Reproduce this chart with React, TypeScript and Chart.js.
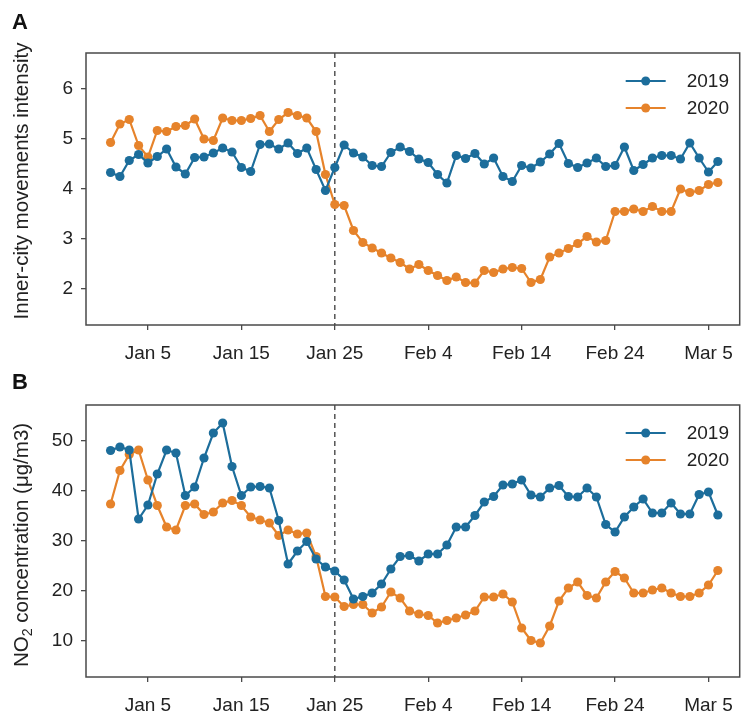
import React, { useEffect, useRef } from "react";
import { Chart, registerables } from "chart.js";

Chart.register(...registerables);

// ---- data ----
const tickLabels = ["Jan 5", "Jan 15", "Jan 25", "Feb 4", "Feb 14", "Feb 24", "Mar 5"];
const tickDays = [4, 14, 24, 34, 44, 54, 64]; // days since Jan 1
const lockdownDay = 24; // Jan 25
const seriesNames = ["2019", "2020"];

const mobility2019 = [
  4.33, 4.25, 4.57, 4.69, 4.52, 4.65, 4.8, 4.44, 4.3, 4.63, 4.64, 4.72, 4.82, 4.74, 4.43, 4.35,
  4.89, 4.9, 4.8, 4.92, 4.71, 4.82, 4.39, 3.97, 4.43, 4.88, 4.72, 4.64, 4.47, 4.45, 4.73, 4.84,
  4.75, 4.6, 4.53, 4.29, 4.12, 4.67, 4.61, 4.71, 4.5, 4.62, 4.25, 4.15, 4.47, 4.42, 4.54, 4.7,
  4.91, 4.51, 4.43, 4.52, 4.62, 4.45, 4.47, 4.84, 4.37, 4.49, 4.62, 4.67, 4.67, 4.6, 4.92, 4.62,
  4.34, 4.55,
];
const mobility2020 = [
  4.93, 5.3, 5.39, 4.87, 4.64, 5.17, 5.15, 5.25, 5.27, 5.4, 5.0, 4.97, 5.42, 5.37, 5.37, 5.41,
  5.47, 5.15, 5.39, 5.53, 5.47, 5.42, 5.15, 4.29, 3.69, 3.67, 3.17, 2.93, 2.82, 2.72, 2.62, 2.53,
  2.4, 2.49, 2.37, 2.27, 2.17, 2.24, 2.13, 2.12, 2.37, 2.33, 2.4, 2.43, 2.41, 2.13, 2.19, 2.64,
  2.72, 2.81, 2.91, 3.05, 2.94, 2.97, 3.55, 3.55, 3.6, 3.55, 3.65, 3.55, 3.55, 4.0, 3.93, 3.97,
  4.09, 4.13,
];
const no2_2019 = [
  48.1, 48.8, 48.2, 34.4, 37.2, 43.4, 48.2, 47.6, 39.1, 40.8, 46.6, 51.6, 53.6, 44.9, 39.1, 40.8,
  40.9, 40.6, 34.1, 25.4, 28.0, 29.9, 26.4, 24.8, 24.0, 22.2, 18.4, 18.9, 19.6, 21.4, 24.4, 26.9,
  27.1, 26.0, 27.4, 27.4, 29.2, 32.8, 32.8, 35.1, 37.8, 38.9, 41.2, 41.4, 42.2, 39.2, 38.8, 40.6,
  41.1, 38.9, 38.8, 40.6, 38.8, 33.3, 31.8, 34.8, 36.8, 38.4, 35.6, 35.6, 37.6, 35.4, 35.4, 39.3,
  39.8, 35.2,
];
const no2_2020 = [
  37.4, 44.1, 47.3, 48.2, 42.2, 37.1, 32.8, 32.2, 37.1, 37.4, 35.3, 35.8, 37.6, 38.1, 37.1, 34.8,
  34.2, 33.6, 31.1, 32.2, 31.4, 31.6, 26.9, 18.9, 18.8, 16.9, 17.3, 17.3, 15.6, 16.8, 19.8, 18.6,
  16.0, 15.4, 15.1, 13.6, 14.1, 14.6, 15.2, 16.0, 18.8, 18.8, 19.4, 17.8, 12.6, 10.1, 9.6, 13.0,
  18.0, 20.6, 21.8, 19.1, 18.6, 21.8, 23.9, 22.6, 19.6, 19.6, 20.2, 20.6, 19.6, 18.9, 18.9, 19.6,
  21.2, 24.1,
];
const mobilityTicks = [2, 3, 4, 5, 6];
const no2Ticks = [10, 20, 30, 40, 50];

// ---- style ----
const BLUE = "#1c6d9b";
const ORANGE = "#e6832b";
const AXIS = "#4a4a4a";
const TEXT = "#222222";
const FONT = "'Liberation Sans', Arial, sans-serif";
const FS = 19;
const TITLE_FS = 20.5;

type PanelCfg = {
  letter: string;
  letterY: number;
  a: number[];
  b: number[];
  yMin: number;
  yMax: number;
  yTicks: number[];
  title: "mobility" | "no2";
  titleShift: number;
  top: number;
  xAxisH: number;
};

function makePlugin(cfg: PanelCfg) {
  return {
    id: "decor" + cfg.letter,
    beforeDatasetsDraw(chart: any) {
      const { ctx, chartArea } = chart;
      const x = chart.scales.x.getPixelForValue(lockdownDay);
      ctx.save();
      ctx.strokeStyle = "#555";
      ctx.lineWidth = 1.5;
      ctx.setLineDash([5, 4]);
      ctx.beginPath();
      ctx.moveTo(x, chartArea.top);
      ctx.lineTo(x, chartArea.bottom);
      ctx.stroke();
      ctx.restore();
    },
    afterDraw(chart: any) {
      const { ctx, chartArea } = chart;
      ctx.save();
      // frame
      ctx.strokeStyle = AXIS;
      ctx.lineWidth = 1.5;
      ctx.strokeRect(chartArea.left, chartArea.top, chartArea.right - chartArea.left, chartArea.bottom - chartArea.top);

      // panel letter
      ctx.fillStyle = "#111";
      ctx.font = `bold 22px ${FONT}`;
      ctx.textAlign = "left";
      ctx.textBaseline = "middle";
      ctx.fillText(cfg.letter, 12, cfg.letterY);

      // y title
      const cy = (chartArea.top + chartArea.bottom) / 2 + cfg.titleShift;
      ctx.translate(22, cy);
      ctx.rotate(-Math.PI / 2);
      ctx.fillStyle = TEXT;
      ctx.textBaseline = "middle";
      ctx.textAlign = "left";
      if (cfg.title === "mobility") {
        ctx.font = `${TITLE_FS}px ${FONT}`;
        const t = "Inner-city movements intensity";
        const w = ctx.measureText(t).width;
        ctx.fillText(t, -w / 2, 0);
      } else {
        ctx.font = `${TITLE_FS}px ${FONT}`;
        const p1 = "NO";
        const p3 = " concentration (μg/m3)";
        const w1 = ctx.measureText(p1).width;
        const w3 = ctx.measureText(p3).width;
        ctx.font = `${TITLE_FS * 0.7}px ${FONT}`;
        const w2 = ctx.measureText("2").width;
        const total = w1 + w2 + w3;
        const x0 = -total / 2;
        ctx.font = `${TITLE_FS}px ${FONT}`;
        ctx.fillText(p1, x0, 0);
        ctx.font = `${TITLE_FS * 0.7}px ${FONT}`;
        ctx.fillText("2", x0 + w1, 6);
        ctx.font = `${TITLE_FS}px ${FONT}`;
        ctx.fillText(p3, x0 + w1 + w2, 0);
      }
      ctx.restore();

      // legend
      ctx.save();
      const colors = [BLUE, ORANGE];
      seriesNames.forEach((name, i) => {
        const y = chartArea.top + 28 + i * 27;
        const x1 = chartArea.right - 114;
        const x2 = chartArea.right - 74;
        ctx.strokeStyle = colors[i];
        ctx.lineWidth = 2.2;
        ctx.beginPath();
        ctx.moveTo(x1, y);
        ctx.lineTo(x2, y);
        ctx.stroke();
        ctx.fillStyle = colors[i];
        ctx.beginPath();
        ctx.arc((x1 + x2) / 2, y, 4.5, 0, Math.PI * 2);
        ctx.fill();
        ctx.fillStyle = TEXT;
        ctx.font = `${FS}px ${FONT}`;
        ctx.textAlign = "left";
        ctx.textBaseline = "middle";
        ctx.fillText(name, chartArea.right - 53, y + 1);
      });
      ctx.restore();
    },
  };
}

function Panel({ cfg, height, top }: { cfg: PanelCfg; height: number; top: number }) {
  const ref = useRef<HTMLCanvasElement | null>(null);
  useEffect(() => {
    if (!ref.current) return;
    const mk = (arr: number[]) => arr.map((v, i) => ({ x: i, y: v }));
    const ds = (label: string, data: number[], color: string) => ({
      label,
      data: mk(data),
      borderColor: color,
      backgroundColor: color,
      borderWidth: 2.2,
      pointRadius: 4.6,
      pointBorderWidth: 0,
      pointBackgroundColor: color,
      tension: 0,
    });
    const chart = new Chart(ref.current, {
      type: "line",
      data: {
        datasets: [ds(seriesNames[0], cfg.a, BLUE), ds(seriesNames[1], cfg.b, ORANGE)],
      },
      options: {
        responsive: false,
        animation: false,
        events: [],
        layout: { padding: { top: cfg.top, right: 2, left: 0, bottom: 0 } },
        plugins: { legend: { display: false }, tooltip: { enabled: false } },
        scales: {
          x: {
            type: "linear",
            min: -2.63,
            max: 67.34,
            afterBuildTicks: (s: any) => {
              s.ticks = tickDays.map((v) => ({ value: v }));
            },
            afterFit: (s: any) => {
              s.height = cfg.xAxisH;
            },
            ticks: {
              autoSkip: false,
              maxRotation: 0,
              color: TEXT,
              font: { family: FONT, size: FS },
              padding: 12,
              callback: (_v: any, i: number) => tickLabels[i],
            },
            grid: { drawOnChartArea: false, drawTicks: true, tickLength: 5, color: AXIS, lineWidth: 1.3 },
            border: { display: false },
          },
          y: {
            type: "linear",
            min: cfg.yMin,
            max: cfg.yMax,
            afterBuildTicks: (s: any) => {
              s.ticks = cfg.yTicks.map((v) => ({ value: v }));
            },
            afterFit: (s: any) => {
              s.width = 86;
            },
            ticks: {
              color: TEXT,
              font: { family: FONT, size: FS },
              padding: 8,
              callback: (v: any) => String(v),
            },
            grid: { drawOnChartArea: false, drawTicks: true, tickLength: 5, color: AXIS, lineWidth: 1.3 },
            border: { display: false },
          },
        },
      },
      plugins: [makePlugin(cfg)],
    });
    return () => chart.destroy();
  }, [cfg]);
  return (
    <canvas
      ref={ref}
      width={745}
      height={height}
      style={{ position: "absolute", left: 0, top, width: 745, height, display: "block" }}
    />
  );
}

const panelA: PanelCfg = {
  letter: "A",
  letterY: 23,
  a: mobility2019,
  b: mobility2020,
  yMin: 1.28,
  yMax: 6.72,
  yTicks: mobilityTicks,
  title: "mobility",
  titleShift: -8,
  top: 53,
  xAxisH: 35,
};
const panelB: PanelCfg = {
  letter: "B",
  letterY: 23,
  a: no2_2019,
  b: no2_2020,
  yMin: 2.8,
  yMax: 57.2,
  yTicks: no2Ticks,
  title: "no2",
  titleShift: 4,
  top: 45,
  xAxisH: 38,
};

export default function App() {
  return (
    <div style={{ position: "absolute", left: 0, top: 0, width: 745, height: 715, background: "#fff" }}>
      <Panel cfg={panelA} height={360} top={0} />
      <Panel cfg={panelB} height={355} top={360} />
    </div>
  );
}
